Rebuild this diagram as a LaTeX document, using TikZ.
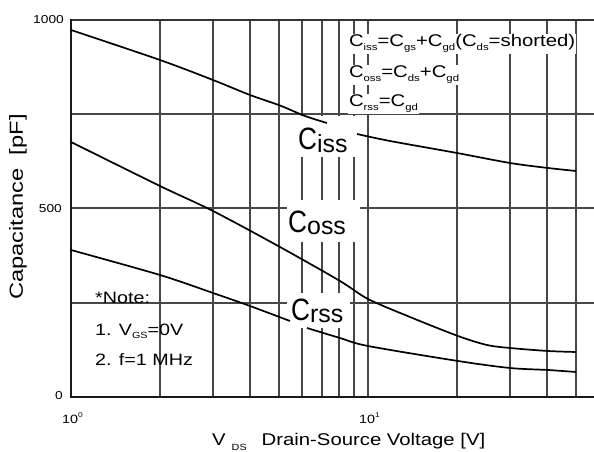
\documentclass[tikz,border=0pt]{standalone}
\usepackage{fontspec}
\setmainfont{Liberation Sans}[FakeStretch=1.2]
\newfontfamily\narrowfont{Liberation Sans}[FakeStretch=0.85]
\newfontfamily\plainfont{Liberation Sans}
\newfontfamily\ylabelfont{Liberation Sans}[FakeStretch=1.25]
\newcommand\fsz[1]{\fontsize{#1}{#1}\selectfont}
\newcommand\lowsub[1]{\raisebox{-4pt}{\fsz{9.5}#1}}
\tikzset{
  gridline/.style={black!72, line width=2bp},
  frameline/.style={black!90, line width=2bp},
  topline/.style={black!80, line width=2bp},
  curveline/.style={black, line width=1.7bp},
  txt/.style={inner sep=0pt, text=black},
  formula/.style={txt, fill=white, inner sep=0.8pt, anchor=base west},
  biglabel/.style={txt, anchor=base west},
}
\begin{document}
\begin{tikzpicture}[x=1bp,y=-1bp]
\useasboundingbox (0,0) rectangle (594,452);
% grid
\foreach \xv in {160,213,250,279,302,322,339,354,368,457,510,547,576}
  \draw[gridline] (\xv,20) -- (\xv,397);
\foreach \yv in {114,208,303}
  \draw[gridline] (71,\yv) -- (594,\yv);
\draw[topline] (71,20) -- (594,20);
\draw[frameline] (71,19) -- (71,397) -- (594,397);
% white label backgrounds
\fill[white] (295,116) rectangle (357,157);
\fill[white] (287,200) rectangle (360,242);
\fill[white] (287,293) rectangle (350,328);
% curves
\draw[curveline] plot[smooth, tension=0.5] coordinates {(71,30) (160,60) (213,80) (250,95) (280,105.5) (305,116) (327,123)};
\draw[curveline] plot[smooth, tension=0.5] coordinates {(357,134) (390,141) (457,153) (510,163) (548,168) (576,171)};
\draw[curveline] plot[smooth, tension=0.5] coordinates {(71,142) (160,186) (213,211) (280,247) (340,281) (368,299) (410,317) (458,336) (487,345) (510,348) (548,351) (576,352)};
\draw[curveline] plot[smooth, tension=0.5] coordinates {(71,250) (160,275) (213,293) (250,306) (290,321)};
\draw[curveline] plot[smooth, tension=0.5] coordinates {(307,328) (340,338) (368,346) (458,361) (510,368) (548,370) (576,372)};
% curve labels
\node[biglabel] (ciss) at (298,150) {{\narrowfont\fsz{31}C}{\plainfont\fsz{25}\raisebox{-3pt}{iss}}};
\node[biglabel] (coss) at (288,233) {{\narrowfont\fsz{31}C}{\plainfont\fsz{25}\raisebox{-2pt}{oss}}};
\node[biglabel] (crss) at (291,320) {{\narrowfont\fsz{31}C}{\plainfont\fsz{25}\raisebox{-3pt}{rss}}};
% formulas
\node[formula] (f1) at (348,47) {\fsz{17}C\lowsub{iss}=C\lowsub{gs}+C\lowsub{gd}(C\lowsub{ds}=shorted)};
\node[formula] (f2) at (348,78) {\fsz{17}C\lowsub{oss}=C\lowsub{ds}+C\lowsub{gd}};
\node[formula] (f3) at (348,107) {\fsz{17}C\lowsub{rss}=C\lowsub{gd}};
% note
\node[txt, anchor=base west] (n0) at (95,303) {\fsz{16.5}*Note:};
\node[txt, anchor=base west] (n1) at (95,335) {\fsz{16.5}1. V\raisebox{-4pt}{\fsz{9}GS}=0V};
\node[txt, anchor=base west] (n2) at (95,365) {\fsz{16.5}2. f=1 MHz};
% tick labels
\node[txt, anchor=east] (t1000) at (64,20) {\fsz{11.5}1000};
\node[txt, anchor=east] (t500) at (62,208.5) {\fsz{11.5}500};
\node[txt, anchor=east] (t0) at (63,396) {\fsz{11.5}0};
\node[txt, anchor=base west] (x1) at (62,423) {\fsz{12}10\raisebox{6pt}{\fsz{7}0}};
\node[txt, anchor=base west] (x10) at (359,423) {\fsz{12}10\raisebox{6pt}{\fsz{7}1}};
% axis labels
\node[txt, anchor=base west] (xlab) at (212,445) {\fsz{17}V\hspace{6pt}\raisebox{-6pt}{\fsz{9}DS}\hspace{15pt}Drain-Source Voltage [V]};
\node[txt, rotate=90] (ylab) at (18,207) {\ylabelfont\fsz{19}Capacitance\ \ [pF]};
\end{tikzpicture}
\end{document}
